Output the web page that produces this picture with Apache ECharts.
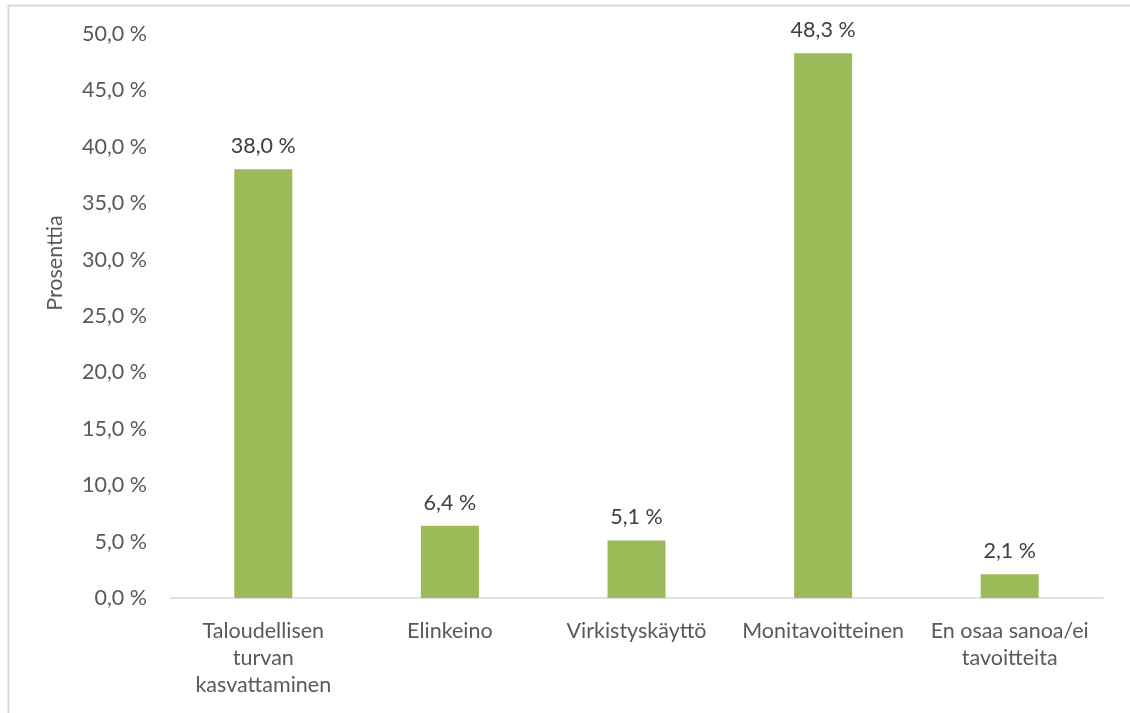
<!DOCTYPE html>
<html>
<head>
<meta charset="utf-8">
<script src="https://cdn.jsdelivr.net/npm/echarts@6/dist/echarts.min.js"></script>
<style>
  html, body { margin: 0; padding: 0; background: #fff; }
  #chart { width: 1130px; height: 713px; }
</style>
</head>
<body>
<div id="chart"></div>
<script>
// Tavoitteet metsänomistuksessa (osuus vastaajista)
const categories = [
  'Taloudellisen\nturvan\nkasvattaminen',
  'Elinkeino',
  'Virkistyskäyttö',
  'Monitavoitteinen',
  'En osaa sanoa/ei\ntavoitteita'
];
const shares = [38.0, 6.4, 5.1, 48.3, 2.1];
const yTicks = { min: 0, max: 50, interval: 5 };
const axisName = 'Prosenttia';

const fmt = v => v.toFixed(1).replace('.', ',') + ' %';
const font = 'Lato, "Open Sans", sans-serif';
const size = 21.5;

const chart = echarts.init(document.getElementById('chart'));
chart.setOption({
  backgroundColor: '#fff',
  animation: false,
  graphic: [
    {
      // chart frame
      type: 'rect',
      shape: { x: 8.5, y: 5.5, width: 1200, height: 800 },
      style: { fill: 'none', stroke: '#d9d9d9', lineWidth: 2 },
      silent: true
    },
    {
      // y-axis title, sits above the axis midpoint
      type: 'text',
      x: 55,
      y: 263,
      rotation: Math.PI / 2,
      style: {
        text: axisName,
        fill: '#595959',
        font: size + 'px ' + font,
        align: 'center',
        verticalAlign: 'middle'
      },
      silent: true
    }
  ],
  grid: { left: 170, right: 27, top: 34, bottom: 115 },
  xAxis: {
    type: 'category',
    data: categories,
    axisLine: { lineStyle: { color: '#d9d9d9', width: 1.5 } },
    axisTick: { show: false },
    axisLabel: {
      interval: 0,
      color: '#595959',
      fontFamily: font,
      fontSize: size,
      lineHeight: 27,
      margin: 20
    }
  },
  yAxis: {
    type: 'value',
    min: yTicks.min,
    max: yTicks.max,
    interval: yTicks.interval,
    axisLine: { show: false },
    axisTick: { show: false },
    splitLine: { show: false },
    axisLabel: {
      color: '#595959',
      fontFamily: font,
      fontSize: size,
      margin: 23,
      formatter: v => fmt(v)
    }
  },
  series: [{
    type: 'bar',
    data: shares,
    barWidth: 58,
    itemStyle: { color: '#9bbb59' },
    label: {
      show: true,
      position: 'top',
      distance: 12,
      color: '#404040',
      fontFamily: font,
      fontSize: size,
      formatter: p => fmt(p.value)
    }
  }]
});
</script>
</body>
</html>
